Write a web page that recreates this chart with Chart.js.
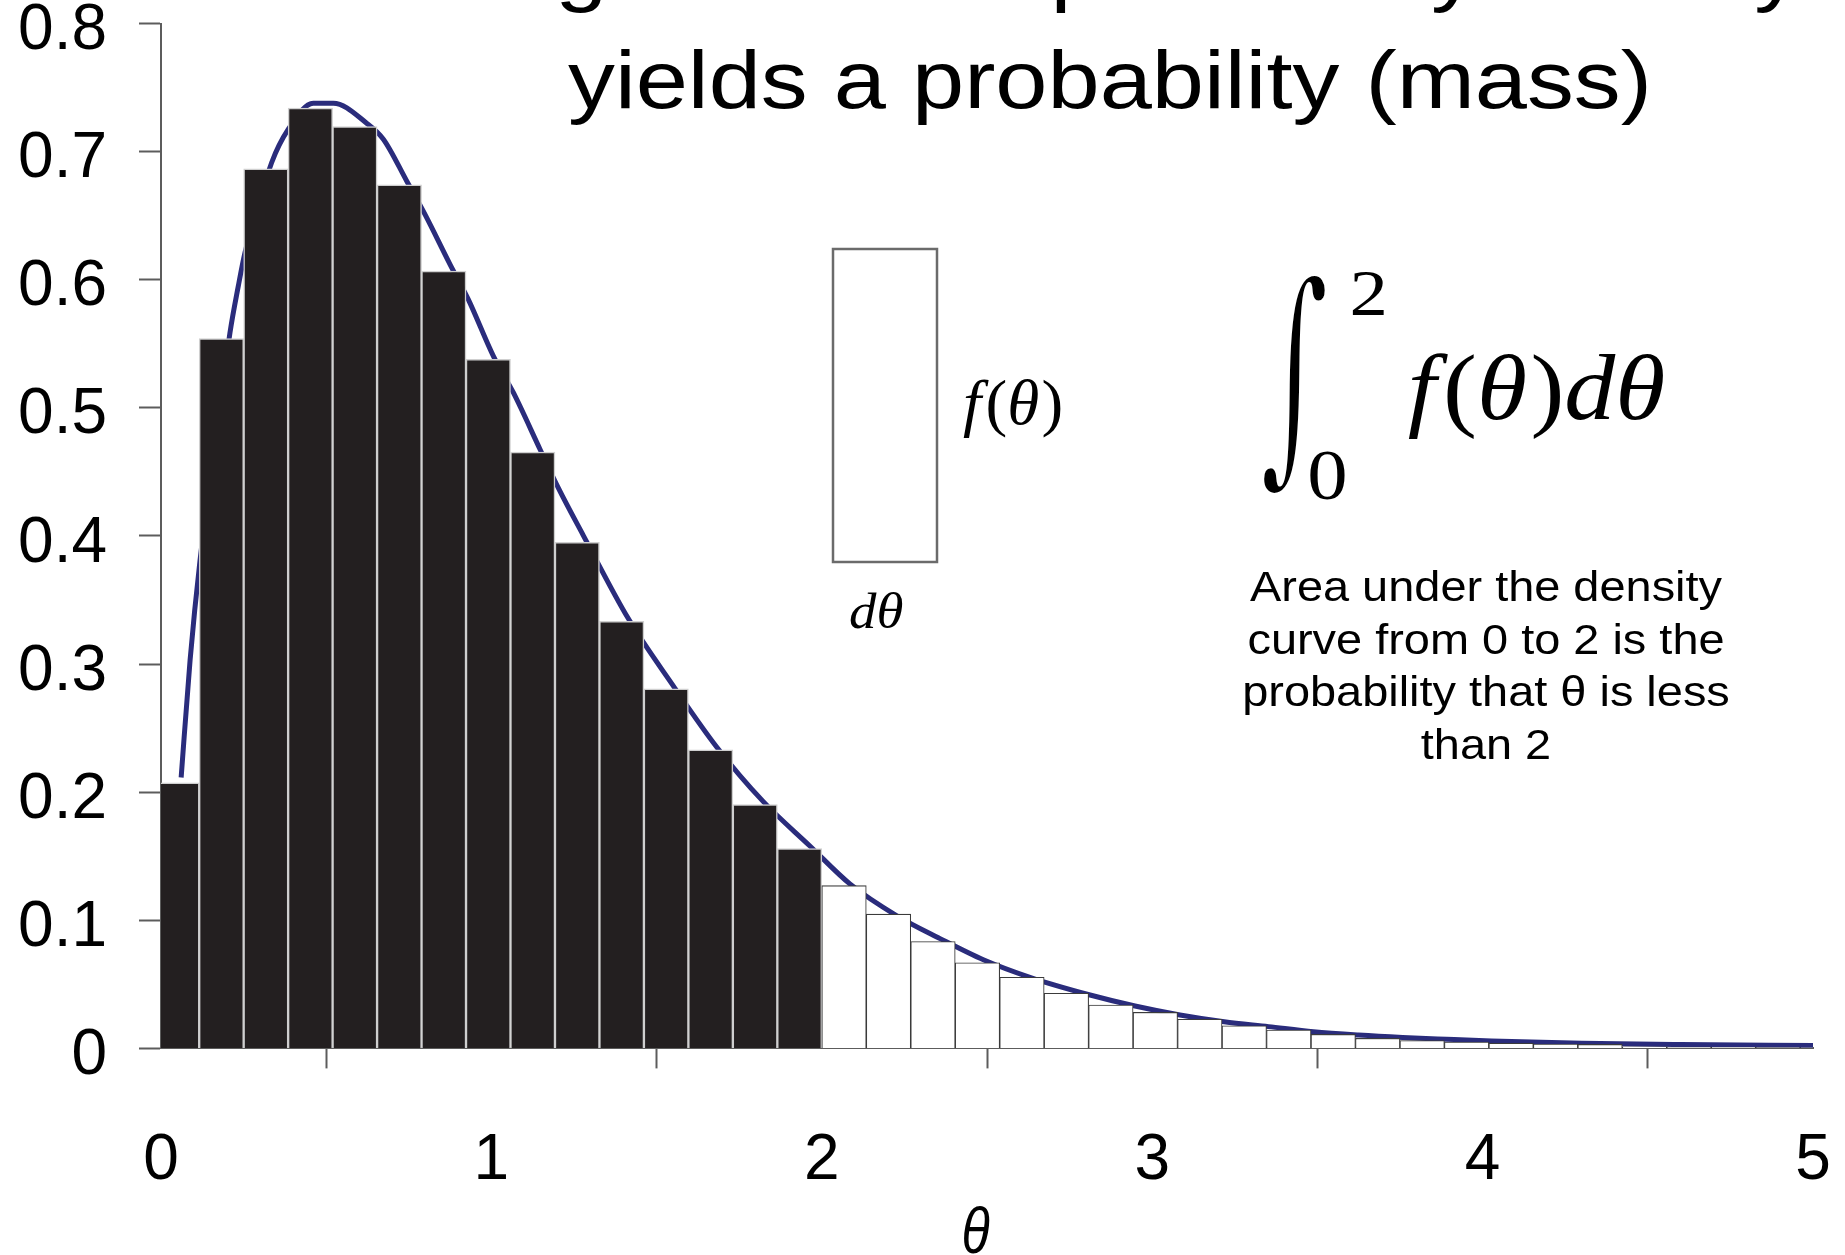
<!DOCTYPE html>
<html>
<head>
<meta charset="utf-8">
<script src="https://cdn.jsdelivr.net/npm/chart.js@4.4.0/dist/chart.umd.min.js"></script>
<style>
  html, body { margin: 0; padding: 0; background: #fff; }
  #grafico { display: block; }
</style>
</head>
<body>
<canvas id="grafico" width="1845" height="1255"></canvas>
<script>
// centros das classes do histograma (theta)
const centrosClasses = [0.0483, 0.1829, 0.3175, 0.4521, 0.5867, 0.7213, 0.8559, 0.9905, 1.1251, 1.2597,
  1.3943, 1.5289, 1.6635, 1.7981, 1.9327, 2.0673, 2.2019, 2.3365, 2.4711, 2.6057,
  2.7403, 2.8749, 3.0095, 3.1441, 3.2787, 3.4133, 3.5479, 3.6825, 3.8171, 3.9517,
  4.0863, 4.2209, 4.3555, 4.4901, 4.6247, 4.7593, 4.8939, 5.0285];

// altura de cada barra (densidade)
const alturas = [0.2073, 0.5540, 0.6865, 0.7339, 0.7195, 0.6740, 0.6068, 0.5378, 0.4655, 0.3950,
  0.3333, 0.2807, 0.2331, 0.1904, 0.1560, 0.1270, 0.1048, 0.0834, 0.0668, 0.0555,
  0.0430, 0.0339, 0.0281, 0.0227, 0.0177, 0.0143, 0.0109, 0.0078, 0.0062, 0.0050,
  0.0041, 0.0034, 0.0031, 0.0012, 0.0010, 0.0008, 0.0006, 0.0005];

// curva de densidade
const curvaTheta = [0.061, 0.088, 0.118, 0.2088, 0.234, 0.2542, 0.335, 0.3854, 0.461, 0.5216,
  0.6225, 0.673, 0.7436, 0.799, 0.8747, 0.930, 1.006, 1.0666, 1.1474, 1.2025,
  1.278, 1.4144, 1.5505, 1.6818, 1.823, 1.964, 2.085, 2.226, 2.358, 2.489,
  2.63, 2.812, 2.948, 3.084, 3.218, 3.352, 3.488, 3.624, 3.758, 3.891,
  4.027, 4.3, 4.6, 5.0];
const curvaDensidade = [0.2115, 0.303, 0.3806, 0.5587, 0.5951, 0.6212, 0.6915, 0.7175, 0.7378, 0.7378,
  0.7222, 0.7097, 0.6771, 0.651, 0.612, 0.5847, 0.5404, 0.5118, 0.4675, 0.4375,
  0.4005, 0.3355, 0.283, 0.2353, 0.1926, 0.158, 0.1284, 0.1037, 0.0857, 0.0692,
  0.0555, 0.0417, 0.0331, 0.0261, 0.0208, 0.017, 0.0130, 0.0104, 0.0085, 0.0071,
  0.0058, 0.0040, 0.0030, 0.0022];

const ticksX = [0, 1, 2, 3, 4, 5];
const ticksY = [0, 0.1, 0.2, 0.3, 0.4, 0.5, 0.6, 0.7, 0.8];
const limite = 2;

const tituloLinha1 = "Integration of a probability density";
const tituloLinha2 = "yields a probability (mass)";
const notaLinhas = ["Area under the density", "curve from 0 to 2 is the", "probability that \u03b8 is less", "than 2"];

const corEixo = "#5c5c5c";
const sans = '"Liberation Sans", Arial, sans-serif';
const serif = '"Liberation Serif", "DejaVu Serif", serif';

// desenha pedaços de texto lado a lado, escalados para caber na caixa [x0, y0, x1, y1];
// "afinar" tira alguns pixels do contorno (fundo branco)
function desenhaAjustado(ctx, partes, caixa, afinar) {
  let x = 0, x0 = Infinity, x1 = -Infinity, y0 = Infinity, y1 = -Infinity;
  const colocadas = [];
  partes.forEach(p => {
    ctx.font = p.fonte;
    const m = ctx.measureText(p.texto);
    colocadas.push({ texto: p.texto, fonte: p.fonte, x: x });
    x0 = Math.min(x0, x - m.actualBoundingBoxLeft);
    x1 = Math.max(x1, x + m.actualBoundingBoxRight);
    y0 = Math.min(y0, -m.actualBoundingBoxAscent);
    y1 = Math.max(y1, m.actualBoundingBoxDescent);
    x += m.width + (p.folga || 0);
  });
  const sx = (caixa[2] - caixa[0]) / (x1 - x0);
  const sy = (caixa[3] - caixa[1]) / (y1 - y0);
  ctx.save();
  ctx.textAlign = "left";
  ctx.textBaseline = "alphabetic";
  ctx.translate(caixa[0], caixa[1]);
  ctx.scale(sx, sy);
  ctx.translate(-x0, -y0);
  colocadas.forEach(p => {
    ctx.font = p.fonte;
    ctx.fillText(p.texto, p.x, 0);
    if (afinar) {
      ctx.strokeStyle = "#fff";
      ctx.lineJoin = "round";
      ctx.lineWidth = afinar * 2 / (sx + sy);
      ctx.strokeText(p.texto, p.x, 0);
    }
  });
  ctx.restore();
}

const anotacoes = {
  id: "anotacoes",
  afterDraw(chart) {
    const ctx = chart.ctx;
    ctx.save();
    ctx.fillStyle = "#000";
    ctx.textBaseline = "alphabetic";

    // título (da primeira linha só aparecem as descendentes)
    ctx.font = "82px " + sans;
    const m2 = ctx.measureText(tituloLinha2);
    const sx = (1647 - 568) / (m2.actualBoundingBoxLeft + m2.actualBoundingBoxRight);
    ctx.save();
    ctx.translate(568, 108);
    ctx.scale(sx, 1);
    ctx.textAlign = "left";
    ctx.fillText(tituloLinha2, m2.actualBoundingBoxLeft, 0);
    ctx.restore();
    ctx.save();
    ctx.translate(1100, -4);
    ctx.scale(sx, 1);
    ctx.textAlign = "center";
    ctx.fillText(tituloLinha1, 0, 0);
    ctx.restore();

    // retângulo de largura dθ
    ctx.strokeStyle = "#6b6b6b";
    ctx.lineWidth = 2.5;
    ctx.strokeRect(833, 249, 104, 313);

    const it = "italic 60px " + serif;
    const rm = "60px " + serif;
    desenhaAjustado(ctx, [
      { texto: "f", fonte: it, folga: 4 },
      { texto: "(", fonte: rm },
      { texto: "\u03b8", fonte: it, folga: 2 },
      { texto: ")", fonte: rm }
    ], [963, 380, 1061, 438]);
    desenhaAjustado(ctx, [
      { texto: "d", fonte: it },
      { texto: "\u03b8", fonte: it }
    ], [850, 592, 903, 629]);

    // integral de 0 a 2
    desenhaAjustado(ctx, [{ texto: "\u222b", fonte: '200px "DejaVu Serif"' }], [1262, 272, 1327, 497], 5);
    desenhaAjustado(ctx, [{ texto: "2", fonte: "60px " + serif }], [1352, 272, 1384, 315]);
    desenhaAjustado(ctx, [{ texto: "0", fonte: "60px " + serif }], [1310, 452, 1345, 500]);
    const itG = "italic 90px " + serif;
    const rmG = "90px " + serif;
    desenhaAjustado(ctx, [
      { texto: "f", fonte: itG, folga: 6 },
      { texto: "(", fonte: rmG },
      { texto: "\u03b8", fonte: itG, folga: 3 },
      { texto: ")", fonte: rmG },
      { texto: "d", fonte: itG },
      { texto: "\u03b8", fonte: itG }
    ], [1409, 352, 1664, 440]);

    // nota explicativa
    ctx.font = "42px " + sans;
    const mn = ctx.measureText(notaLinhas[0]);
    const sn = 472 / (mn.actualBoundingBoxLeft + mn.actualBoundingBoxRight);
    ctx.textAlign = "center";
    notaLinhas.forEach((linha, i) => {
      ctx.save();
      ctx.translate(1486, 601 + i * 52.6);
      ctx.scale(sn, 1);
      ctx.fillText(linha, 0, 0);
      ctx.restore();
    });

    // título do eixo x
    desenhaAjustado(ctx, [{ texto: "\u03b8", fonte: "italic 62px " + sans }], [950, 1207, 976, 1254]);
    ctx.restore();
  }
};

// sem folga automática dos rótulos: a área do gráfico fica onde o layout manda
function semFolga(s) {
  s.paddingTop = 0;
  s.paddingBottom = 0;
  s.paddingLeft = 0;
  s.paddingRight = 0;
}

const barras = centrosClasses.map((c, i) => ({ x: c, y: alturas[i] }));
const curva = curvaTheta.map((t, i) => ({ x: t, y: curvaDensidade[i] }));

new Chart(document.getElementById("grafico").getContext("2d"), {
  type: "bar",
  data: {
    datasets: [
      {
        type: "bar",
        data: barras,
        order: 1,
        clip: 0,
        barPercentage: 1,
        categoryPercentage: 1,
        backgroundColor: c => (c.raw && c.raw.x < limite ? "#231f20" : "#ffffff"),
        borderColor: c => (c.raw && c.raw.x < limite ? "#cfcfcf" : "#3b3b3b"),
        borderWidth: c => (c.raw && c.raw.x < limite ? 1.5 : 1.1)
      },
      {
        type: "line",
        data: curva,
        order: 2,
        borderColor: "#2a2c7c",
        borderWidth: 5,
        pointRadius: 0,
        fill: false,
        cubicInterpolationMode: "monotone"
      }
    ]
  },
  options: {
    responsive: false,
    animation: false,
    events: [],
    layout: { padding: { top: 23.5, right: 32, bottom: 0, left: 0 }, autoPadding: false },
    plugins: { legend: { display: false }, tooltip: { enabled: false } },
    scales: {
      x: {
        type: "linear",
        min: 0,
        max: 5,
        offset: false,
        z: 1,
        afterFit: s => { s.height = 206.6; semFolga(s); },
        afterBuildTicks: s => { s.ticks = ticksX.map(v => ({ value: v })); },
        grid: { drawOnChartArea: false, drawTicks: true, tickLength: 20, tickColor: corEixo, tickWidth: 2 },
        border: { display: true, color: corEixo, width: 2 },
        ticks: { color: "#000", font: { family: sans, size: 64 }, padding: 55, maxRotation: 0, autoSkip: false }
      },
      y: {
        type: "linear",
        min: 0,
        max: 0.8,
        z: 1,
        afterFit: s => { s.width = 161; semFolga(s); },
        afterBuildTicks: s => { s.ticks = ticksY.map(v => ({ value: v })); },
        grid: { drawOnChartArea: false, drawTicks: true, tickLength: 22, tickColor: corEixo, tickWidth: 2 },
        border: { display: true, color: corEixo, width: 2 },
        ticks: {
          color: "#000",
          font: { family: sans, size: 64 },
          padding: 32,
          labelOffset: 8,
          autoSkip: false,
          callback: v => String(Number(v.toFixed(1)))
        }
      }
    }
  },
  plugins: [anotacoes]
});
</script>
</body>
</html>
